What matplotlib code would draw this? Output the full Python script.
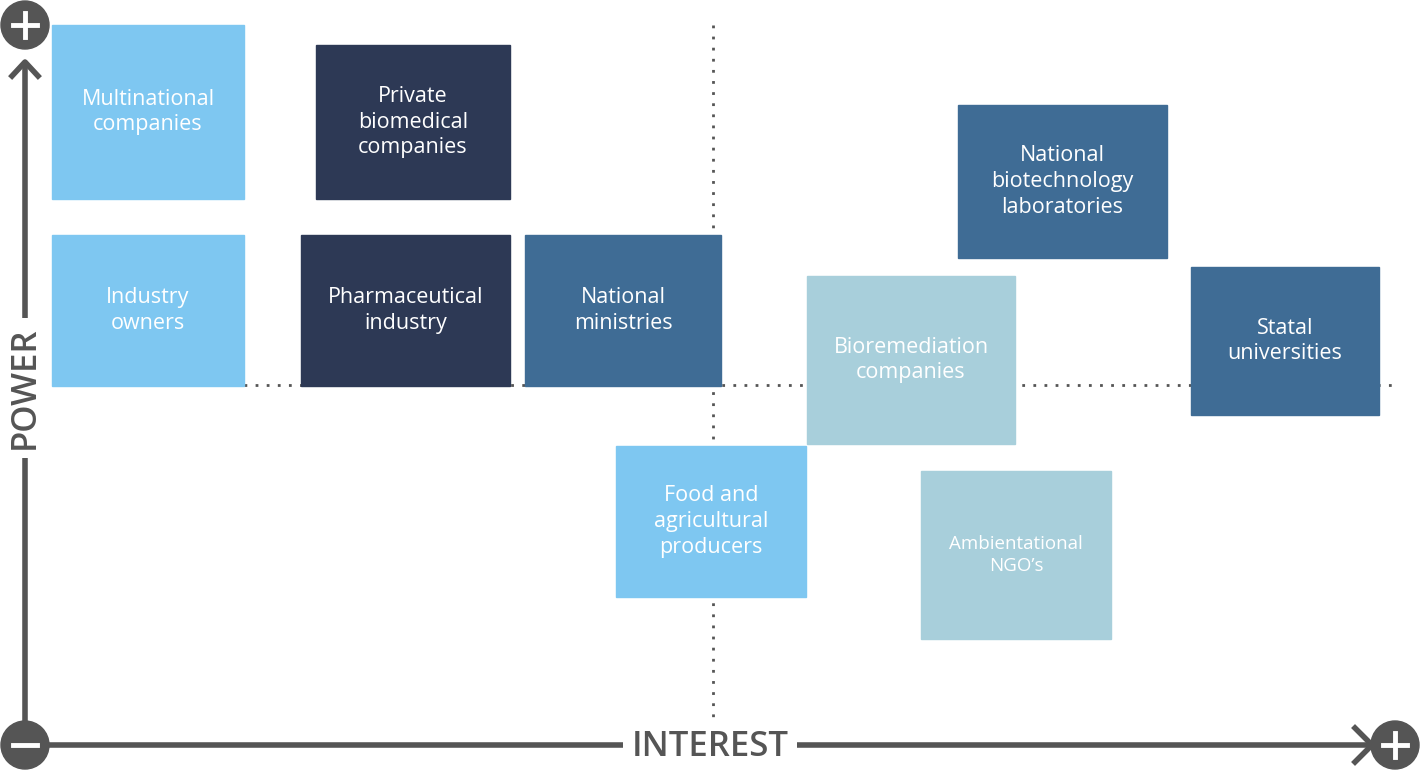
import matplotlib
matplotlib.use("Agg")
import matplotlib.pyplot as plt
from matplotlib.patches import Rectangle, Circle

labels = ["Multinational\ncompanies", "Private\nbiomedical\ncompanies", "Industry\nowners",
          "Pharmaceutical\nindustry", "National\nministries", "National\nbiotechnology\nlaboratories",
          "Bioremediation\ncompanies", "Statal\nuniversities", "Food and\nagricultural\nproducers",
          "Ambientational\nNGO’s"]
x0 = [52, 316, 52, 301, 525, 958, 807, 1191, 616, 921]
y0 = [25, 45, 235, 235, 235, 105, 276, 267, 446, 471]
x1 = [244, 510, 244, 510, 721, 1167, 1015, 1379, 806, 1111]
y1 = [199, 199, 386, 386, 386, 258, 444, 415, 597, 639]
colors = ["#7EC7F1", "#2D3955", "#7EC7F1", "#2D3955", "#3F6C95", "#3F6C95",
          "#A8CFDB", "#3F6C95", "#7EC7F1", "#A8CFDB"]
fsize = [15.5, 15.5, 15.5, 15.5, 15.5, 15.5, 15.5, 15.5, 15.5, 13.5]

plt.rcParams['font.family'] = ['Open Sans', 'DejaVu Sans']
fig = plt.figure(figsize=(14.2, 7.73), dpi=100)
ax = fig.add_axes([0, 0, 1, 1])
ax.set_xlim(0, 1420)
ax.set_ylim(773, 0)
ax.axis('off')

g = "#555555"
ax.plot([713, 713], [25, 718], ls=(0, (1, 3)), color=g, lw=2, zorder=1)
ax.plot([244, 1395], [385, 385], ls=(0, (1, 3)), color=g, lw=2, zorder=1)

for a, b, c, d, col, lab, fs in zip(x0, y0, x1, y1, colors, labels, fsize):
    ax.add_patch(Rectangle((a, b), c - a, d - b, color=col, zorder=2))
    ax.text((a + c) / 2, (b + d) / 2, lab, color="white", ha="center", va="center",
            fontsize=fs, linespacing=1.3, zorder=3)

# axes
ax.plot([25, 25], [745, 62], color=g, lw=4, zorder=1, solid_capstyle='butt')
ax.plot([12, 25, 38], [76, 62, 76], color=g, lw=4, zorder=1)
ax.plot([25, 1375], [745, 745], color=g, lw=4, zorder=1)
ax.plot([1355, 1372, 1355], [728, 745, 762], color=g, lw=4, zorder=1)
for cx, cy, s in [(25, 25, "+"), (25, 745, "−"), (1395, 745, "+")]:
    ax.add_patch(Circle((cx, cy), 24, color=g, zorder=4))
    ax.plot([cx - 12, cx + 12], [cy, cy], color="white", lw=3.5, zorder=5)
    if s == "+":
        ax.plot([cx, cx], [cy - 12, cy + 12], color="white", lw=3.5, zorder=5)

ax.text(25, 388, "POWER", rotation=90, ha="center", va="center", fontsize=25,
        fontweight="semibold", color=g, zorder=4,
        bbox=dict(facecolor="white", edgecolor="none", pad=6))
ax.text(710, 747, "INTEREST", ha="center", va="center", fontsize=25,
        fontweight="semibold", color=g, zorder=4,
        bbox=dict(facecolor="white", edgecolor="none", pad=6))

fig.savefig("out.png", dpi=100)
